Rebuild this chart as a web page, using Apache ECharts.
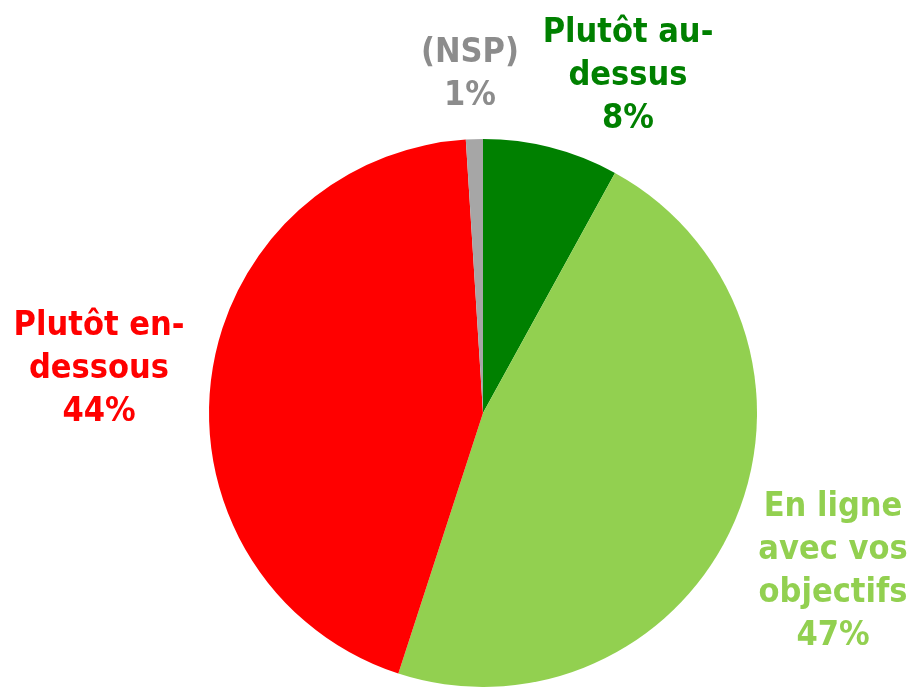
<!DOCTYPE html>
<html>
<head>
<meta charset="utf-8">
<script src="https://cdn.jsdelivr.net/npm/echarts@6/dist/echarts.min.js"></script>
<style>
  html, body { margin: 0; padding: 0; background: #fff; }
  #chart { width: 914px; height: 687px; }
</style>
</head>
<body>
<div id="chart"></div>
<script>
// données du graphique
var categories = ['Plutôt au-\ndessus', 'En ligne\navec vos\nobjectifs', 'Plutôt en-\ndessous', '(NSP)']
var values = [8, 47, 44, 1]
var sliceColors = ['#008000', '#92D050', '#FF0000', '#A6A6A6']
var labelColors = ['#008000', '#92D050', '#FF0000', '#8C8C8C']

// position des étiquettes (centre du bloc de texte)
var labelPos = [[628, 76], [833, 572], [99, 369], [470, 75]]

var chart = echarts.init(document.getElementById('chart'))

chart.setOption({
  animation: false,
  series: [{
    type: 'pie',
    center: [483, 413],
    radius: 274,
    startAngle: 90,
    clockwise: true,
    avoidLabelOverlap: false,
    itemStyle: { borderWidth: 0 },
    label: {
      show: true,
      position: 'outside',
      formatter: '{b}\n{c}%',
      fontFamily: '"DejaVu Sans Condensed", "DejaVu Sans", sans-serif',
      fontWeight: 'bold',
      fontSize: 34,
      lineHeight: 43,
      align: 'center'
    },
    labelLine: { show: false },
    labelLayout: function (params) {
      var p = labelPos[params.dataIndex]
      return { x: p[0], y: p[1], align: 'center', verticalAlign: 'middle' }
    },
    data: categories.map(function (name, i) {
      return {
        name: name,
        value: values[i],
        itemStyle: { color: sliceColors[i] },
        label: { color: labelColors[i] }
      }
    })
  }]
})
</script>
</body>
</html>
